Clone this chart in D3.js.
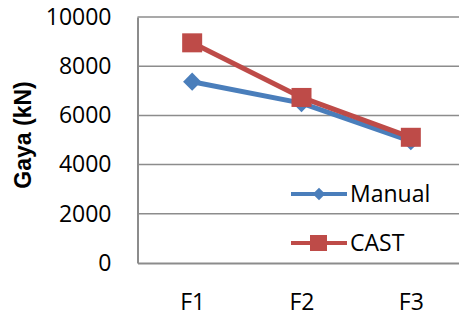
<!DOCTYPE html>
<html lang="en">

<head>
    <meta charset="UTF-8">
    <title>Gaya chart</title>
    <script src="https://d3js.org/d3.v7.min.js"></script>
    <style>
        body {
            margin: 0;
            background: #fff;
        }

        svg {
            width: 459px;
            height: 320px;
            display: block;
            font-family: "Open Sans", sans-serif;
        }
    </style>
</head>

<body>
    <svg></svg>

    <script>
        // data
        const categories = ["F1", "F2", "F3"];
        const manual = [7370, 6500, 4950];
        const cast = [8950, 6730, 5110];
        const yTicks = [0, 2000, 4000, 6000, 8000, 10000];

        const svg = d3.select("svg");

        const plotLeft = 137.5, plotRight = 465.5, plotTop = 17, plotBottom = 263;

        const xScale = d3.scalePoint()
            .domain(categories)
            .range([plotLeft, plotRight])
            .padding(0.5);

        const yScale = d3.scaleLinear()
            .domain([0, 10000])
            .range([plotBottom, plotTop]);

        // gridlines
        svg.append("g")
            .selectAll("line")
            .data(yTicks.slice(1))
            .join("line")
            .attr("x1", plotLeft)
            .attr("x2", plotRight)
            .attr("y1", d => yScale(d))
            .attr("y2", d => yScale(d))
            .style("stroke", "#8c8c8c")
            .style("stroke-width", 1.5);

        // y axis
        const yAxis = svg.append("g")
            .attr("transform", `translate(${plotLeft},0)`)
            .call(d3.axisLeft(yScale).tickValues(yTicks).tickSize(0).tickPadding(26).tickFormat(d3.format("d")));
        yAxis.select(".domain").style("stroke", "#8c8c8c").style("stroke-width", 2);
        yAxis.selectAll("text")
            .attr("font-family", "Open Sans")
            .attr("font-size", 23)
            .attr("fill", "#000");

        // x axis
        const xAxis = svg.append("g")
            .attr("transform", `translate(0,${plotBottom})`)
            .call(d3.axisBottom(xScale).tickSize(0).tickPadding(31));
        xAxis.select(".domain").style("stroke", "#8c8c8c").style("stroke-width", 2);
        xAxis.selectAll("text")
            .attr("font-family", "Open Sans")
            .attr("font-size", 23)
            .attr("fill", "#000");

        // y label
        svg.append("text")
            .attr("transform", "translate(31,135) rotate(-90)")
            .attr("text-anchor", "middle")
            .attr("font-family", "Liberation Sans")
            .attr("font-size", 23)
            .attr("font-weight", "bold")
            .text("Gaya (kN)");

        const line = d3.line()
            .x((d, i) => xScale(categories[i]))
            .y(d => yScale(d));

        const blue = "#4a7ebb", red = "#be4b48";
        const diamond = d3.symbol().type(d3.symbolDiamond2);

        // Manual series
        svg.append("path")
            .datum(manual)
            .attr("d", line)
            .style("fill", "none")
            .style("stroke", blue)
            .style("stroke-width", 5);

        svg.append("g")
            .selectAll("path")
            .data(manual)
            .join("path")
            .attr("transform", (d, i) => `translate(${xScale(categories[i])},${yScale(d)})`)
            .attr("d", diamond.size(210))
            .style("fill", blue);

        // CAST series
        svg.append("path")
            .datum(cast)
            .attr("d", line)
            .style("fill", "none")
            .style("stroke", red)
            .style("stroke-width", 5);

        svg.append("g")
            .selectAll("rect")
            .data(cast)
            .join("rect")
            .attr("x", (d, i) => xScale(categories[i]) - 10)
            .attr("y", d => yScale(d) - 9.5)
            .attr("width", 20)
            .attr("height", 19)
            .style("fill", red);

        // legend
        const legend = svg.append("g");
        const items = [
            { name: "Manual", color: blue, y: 194 },
            { name: "CAST", color: red, y: 243 }
        ];
        items.forEach(function (it, k) {
            const g = legend.append("g").attr("transform", `translate(291,${it.y})`);
            g.append("line")
                .attr("x1", 0).attr("x2", 56)
                .style("stroke", it.color)
                .style("stroke-width", 4);
            if (k === 0) {
                g.append("path")
                    .attr("transform", "translate(28,0)")
                    .attr("d", d3.symbol().type(d3.symbolDiamond2).size(100)())
                    .style("fill", it.color);
            } else {
                g.append("rect")
                    .attr("x", 19).attr("y", -8)
                    .attr("width", 17).attr("height", 16)
                    .style("fill", it.color);
            }
            g.append("text")
                .attr("x", 59)
                .attr("dy", "0.35em")
                .attr("font-size", 23)
                .text(it.name);
        });
    </script>
</body>

</html>
